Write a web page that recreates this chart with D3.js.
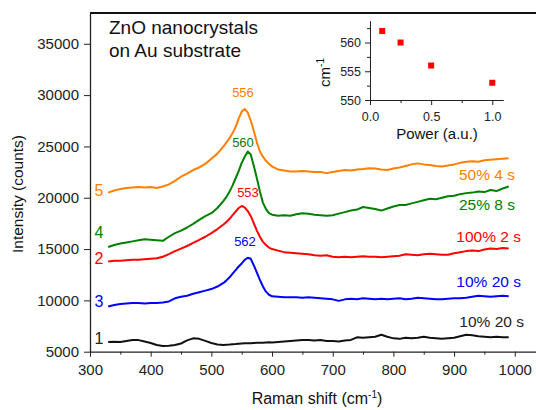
<!DOCTYPE html>
<html>
<head>
<meta charset="utf-8">
<script src="https://cdn.jsdelivr.net/npm/d3@7"></script>
<style>
  body { margin: 0; background: #fff; }
  svg { display: block; font-family: "Liberation Sans", Arial, sans-serif; }
  .axis path, .axis line { stroke: #222; }
  .axis text { fill: #222; }
</style>
</head>
<body>
<script>

// Raman shift grid (cm-1), shared by all spectra
var shift = [330,340,350,360,370,380,390,400,410,420,430,440,450,460,470,480,490,500,510,520,
	525,530,535,540,545,550,555,560,565,570,575,580,585,590,595,600,
	610,620,630,640,650,660,670,680,690,700,710,720,730,740,750,760,770,780,790,800,
	810,820,830,840,850,860,870,880,890,900,910,920,930,940,950,960,970,980,990];

// spectrum 5 : 50% 4 s
var spec5 = [20500,20700,20850,20950,21000,21050,21000,21050,20950,21100,21300,21650,22050,22350,22700,22950,23300,23800,24300,25000,
	25400,25800,26300,26900,27700,28400,28650,28300,27500,26500,25400,24500,24000,23600,23300,23050,
	22750,22650,22550,22550,22600,22550,22500,22500,22400,22500,22600,22700,22650,22750,22800,22880,22850,22750,22700,22850,
	22950,23100,23250,23350,23250,23200,23100,23050,23150,23250,23400,23500,23550,23500,23650,23700,23750,23800,23850];

// spectrum 4 : 25% 8 s
var spec4 = [15200,15400,15550,15650,15750,15850,15950,15900,15850,15800,16200,16550,16800,17100,17450,17850,18200,18500,19000,19700,
	20100,20600,21200,21900,22600,23400,24000,24500,24200,23100,21900,20600,19500,18900,18500,18350,
	18250,18300,18250,18400,18500,18450,18350,18300,18250,18300,18450,18600,18750,18850,19100,19000,18900,18750,18950,19150,
	19300,19300,19450,19600,19750,19900,19850,20000,20150,20200,20350,20450,20500,20600,20550,20750,20650,20900,21100];

// spectrum 2 : 100% 2 s
var spec2 = [13800,13850,13850,13900,13950,13950,14000,14050,14100,14250,14500,14800,15050,15300,15600,15900,16200,16550,16950,17400,
	17650,17950,18300,18650,19000,19200,19050,18700,18200,17500,16800,16200,15700,15400,15150,15000,
	14850,14700,14650,14600,14550,14500,14400,14350,14400,14250,14200,14250,14200,14250,14300,14250,14250,14200,14250,14300,
	14350,14500,14450,14400,14500,14550,14500,14450,14450,14600,14700,14800,14850,14800,14950,15050,15000,15100,15050];

// spectrum 3 : 10% 20 s
var spec3 = [9400,9550,9650,9700,9750,9750,9700,9750,9750,9800,9900,10200,10350,10450,10650,10800,10950,11100,11350,11700,
	11950,12250,12600,12950,13300,13600,13950,14150,14050,13400,12700,12000,11350,10850,10550,10400,
	10350,10300,10300,10300,10250,10300,10250,10200,10150,10100,9950,10100,10150,10100,10200,10150,10100,10150,10100,10150,
	10200,10100,10150,10250,10200,10150,10100,10100,10150,10200,10200,10250,10350,10450,10400,10350,10400,10450,10400];

// spectrum 1 : 10% 20 s (black)
var spec1 = [5950,5980,5950,6050,6150,6130,6000,5850,5650,5550,5570,5650,5800,6100,6300,6250,6050,5850,5700,5650,
	5680,5700,5730,5750,5780,5800,5820,5830,5820,5850,5870,5880,5870,5900,5920,5900,
	5950,6000,6050,6100,6150,6150,6100,6150,6050,6050,6000,6100,6150,6400,6350,6400,6450,6650,6450,6300,
	6250,6350,6300,6350,6450,6350,6300,6250,6300,6350,6500,6650,6600,6500,6450,6400,6450,6400,6400];

var seriesNames = ["5", "4", "2", "3", "1"];
var seriesLabels = ["50% 4 s", "25% 8 s", "100% 2 s", "10% 20 s", "10% 20 s"];
var peakLabels = ["556", "560", "553", "562", null];
var seriesColors = ["#ff8000", "#008000", "#ff0000", "#0000ff", "#111111"];
var seriesValues = [spec5, spec4, spec2, spec3, spec1];

var xTicks = [300,400,500,600,700,800,900,1000];
var xMinor = [350,450,550,650,750,850,950];
var yTicks = [5000,10000,15000,20000,25000,30000,35000];

// inset: peak position vs power
var insetPower = [0.1, 0.25, 0.5, 1.0];
var insetPeak = [562, 560, 556, 553];
var insetXTicks = [0, 0.5, 1.0];
var insetXMinor = [0.25, 0.75];
var insetYTicks = [550, 555, 560];
var insetYMinor = [552.5, 557.5, 562.5];

var W = 536, H = 410;
var svg = d3.select("body").append("svg").attr("width", W).attr("height", H);

var x = d3.scaleLinear().domain([300, 1035]).range([90, 536]);
var y = d3.scaleLinear().domain([5000, 38000]).range([351.7, 13]);

// axes
svg.append("g").attr("class", "axis")
	.attr("transform", "translate(0," + y.range()[0] + ")")
	.call(d3.axisBottom(x).tickValues(xTicks).tickFormat(d3.format("d")).tickSize(5).tickPadding(8).tickSizeOuter(0))
	.call(function(g){ g.selectAll("text").style("font-size", "15px") })
	.call(function(g){ g.select(".domain").attr("stroke-width", 1.3) });

svg.append("g").attr("class", "axis")
	.attr("transform", "translate(0," + y.range()[0] + ")")
	.call(d3.axisBottom(x).tickValues(xMinor).tickSize(3).tickFormat("").tickSizeOuter(0))
	.call(function(g){ g.select(".domain").remove() });

svg.append("g").attr("class", "axis")
	.attr("transform", "translate(" + x.range()[0] + ",0)")
	.call(d3.axisLeft(y).tickValues(yTicks).tickFormat(d3.format("d")).tickSize(6).tickPadding(5).tickSizeOuter(0))
	.call(function(g){ g.selectAll("text").style("font-size", "15px") })
	.call(function(g){ g.select(".domain").attr("stroke-width", 1.3) });

// top frame line
svg.append("line")
	.attr("x1", x.range()[0]).attr("x2", x.range()[1])
	.attr("y1", y.range()[1]).attr("y2", y.range()[1])
	.attr("stroke", "#111").attr("stroke-width", 2);

// spectra
var line = d3.line()
	.x(function(d){ return x(d[0]) })
	.y(function(d){ return y(d[1]) });

seriesValues.forEach(function(vals, i){
	svg.append("path")
		.datum(d3.zip(shift, vals))
		.attr("fill", "none")
		.attr("stroke", seriesColors[i])
		.attr("stroke-width", 2)
		.attr("stroke-linejoin", "round")
		.attr("d", line);
});

// labels (pixel layout)
var numPos = [[99, 196], [99, 238], [99, 264], [99, 307], [99, 344]];
var rightPos = [[515, 180], [515, 210], [521, 241.5], [521, 287], [524, 327]];
var peakPos = [[243, 97], [243, 146.5], [248, 196.5], [245, 246]];

seriesNames.forEach(function(n, i){
	svg.append("text").attr("x", numPos[i][0]).attr("y", numPos[i][1])
		.attr("text-anchor", "middle").style("font-size", "16px")
		.attr("fill", seriesColors[i] === "#111111" ? "#222" : seriesColors[i]).text(n);
	svg.append("text").attr("x", rightPos[i][0]).attr("y", rightPos[i][1])
		.attr("text-anchor", "end").style("font-size", "15.5px")
		.attr("fill", seriesColors[i] === "#111111" ? "#222" : seriesColors[i]).text(seriesLabels[i]);
	if (peakLabels[i]) {
		svg.append("text").attr("x", peakPos[i][0]).attr("y", peakPos[i][1])
			.attr("text-anchor", "middle").style("font-size", "13px")
			.attr("fill", seriesColors[i]).text(peakLabels[i]);
	}
});

// title
svg.append("text").attr("x", 109).attr("y", 34).style("font-size", "19px").attr("fill", "#111").text("ZnO nanocrystals");
svg.append("text").attr("x", 109).attr("y", 57).style("font-size", "19px").attr("fill", "#111").text("on Au substrate");

// axis titles
var xt = svg.append("text").attr("x", 317).attr("y", 404).attr("text-anchor", "middle")
	.style("font-size", "16px").attr("fill", "#111");
xt.append("tspan").text("Raman shift (cm");
xt.append("tspan").attr("dy", -6).style("font-size", "10px").text("-1");
xt.append("tspan").attr("dy", 6).text(")");

svg.append("text").attr("transform", "translate(22.5,194) rotate(-90)")
	.attr("text-anchor", "middle").style("font-size", "15.5px").attr("fill", "#111")
	.text("Intensity (counts)");

// inset
var ix = d3.scaleLinear().domain([0, 1.09]).range([370, 503.3]);
var iy = d3.scaleLinear().domain([550, 563.8]).range([100, 20.7]);

svg.append("g").attr("class", "axis")
	.attr("transform", "translate(0," + iy.range()[0] + ")")
	.call(d3.axisBottom(ix).tickValues(insetXTicks).tickFormat(d3.format(".1f")).tickSize(5).tickPadding(7).tickSizeOuter(0))
	.call(function(g){ g.selectAll("text").style("font-size", "12.5px") });
svg.append("g").attr("class", "axis")
	.attr("transform", "translate(0," + iy.range()[0] + ")")
	.call(d3.axisBottom(ix).tickValues(insetXMinor).tickFormat("").tickSize(3).tickSizeOuter(0))
	.call(function(g){ g.select(".domain").remove() });
svg.append("g").attr("class", "axis")
	.attr("transform", "translate(" + ix.range()[0] + ",0)")
	.call(d3.axisLeft(iy).tickValues(insetYTicks).tickSize(5).tickPadding(4).tickSizeOuter(0))
	.call(function(g){ g.selectAll("text").style("font-size", "12.5px") });
svg.append("g").attr("class", "axis")
	.attr("transform", "translate(" + ix.range()[0] + ",0)")
	.call(d3.axisLeft(iy).tickValues(insetYMinor).tickFormat("").tickSize(3).tickSizeOuter(0))
	.call(function(g){ g.select(".domain").remove() });

svg.selectAll("rect.pt")
	.data(d3.zip(insetPower, insetPeak))
	.enter()
	.append("rect")
	.attr("class", "pt")
	.attr("x", function(d){ return ix(d[0]) - 3 })
	.attr("y", function(d){ return iy(d[1]) - 3 })
	.attr("width", 6).attr("height", 6)
	.attr("fill", "#ff0000");

svg.append("text").attr("x", 437).attr("y", 139).attr("text-anchor", "middle")
	.style("font-size", "15px").attr("fill", "#111").text("Power (a.u.)");

var ct = svg.append("text").attr("transform", "translate(330,72.5) rotate(-90)")
	.attr("text-anchor", "middle").style("font-size", "15px").attr("fill", "#111");
ct.append("tspan").text("cm");
ct.append("tspan").attr("dy", -6).style("font-size", "10px").text("-1");

</script>
</body>
</html>
